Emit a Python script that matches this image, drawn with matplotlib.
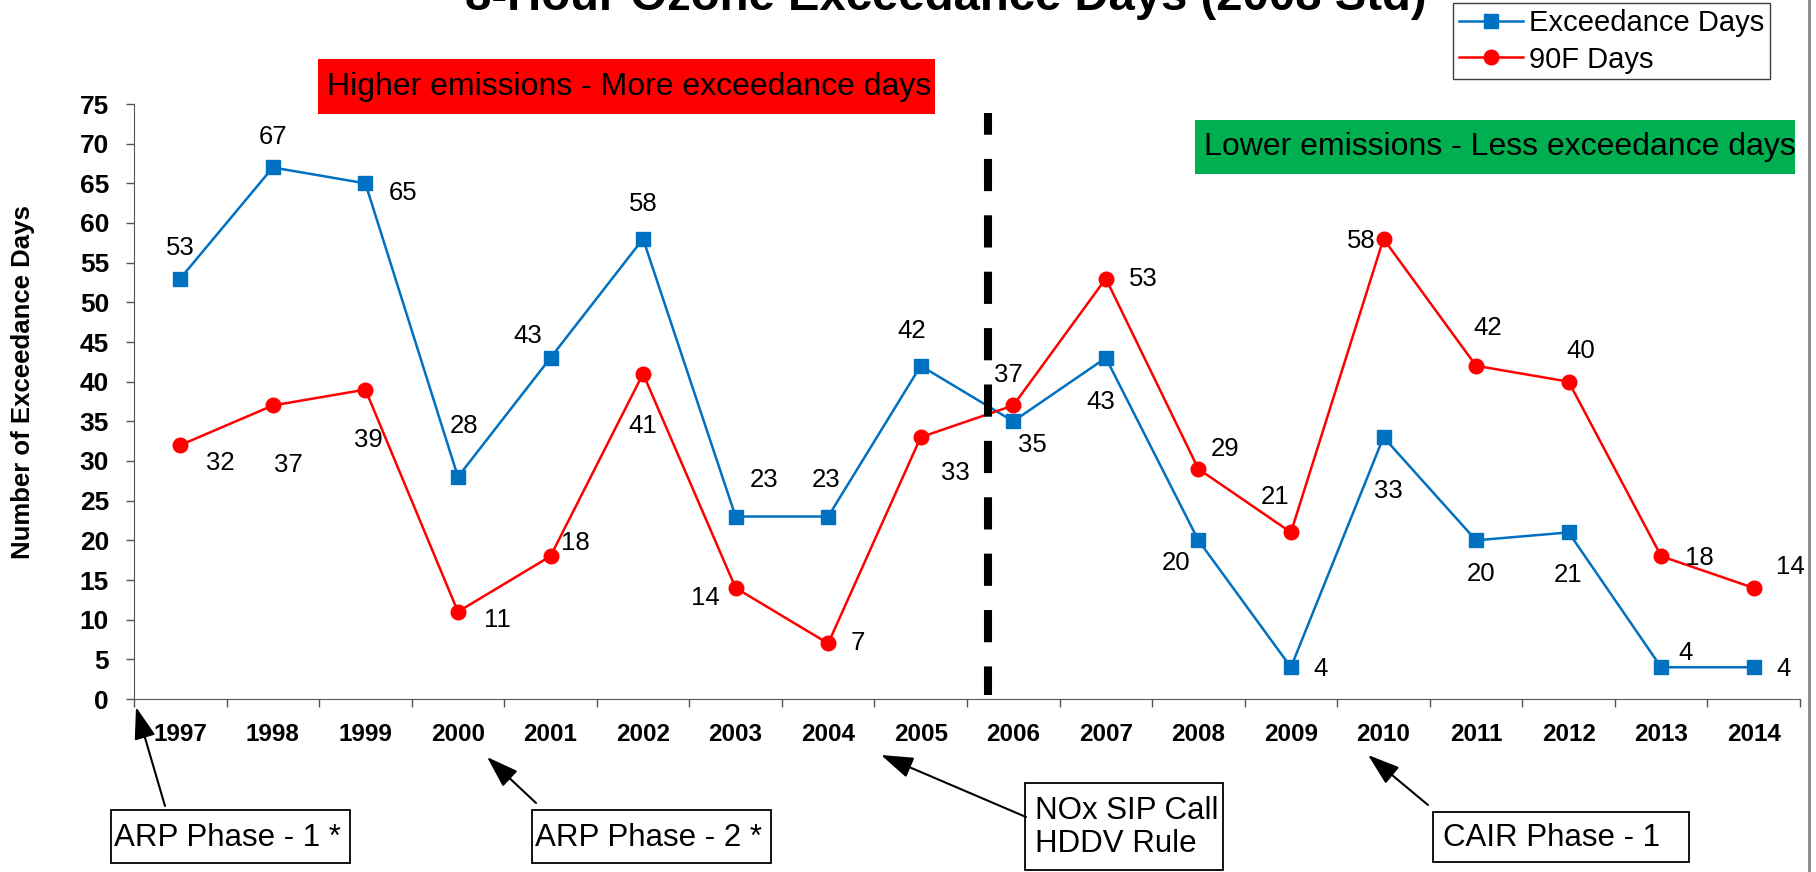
import numpy as np
import matplotlib.pyplot as plt
from matplotlib.lines import Line2D
from matplotlib.patches import Rectangle, FancyArrowPatch

plt.rcParams['font.family'] = ['Liberation Sans', 'DejaVu Sans']

years = ['1997', '1998', '1999', '2000', '2001', '2002', '2003', '2004', '2005',
         '2006', '2007', '2008', '2009', '2010', '2011', '2012', '2013', '2014']
exceedance = [53, 67, 65, 28, 43, 58, 23, 23, 42, 35, 43, 20, 4, 33, 20, 21, 4, 4]
days_90f = [32, 37, 39, 11, 18, 41, 14, 7, 33, 37, 53, 29, 21, 58, 42, 40, 18, 14]

# label offsets in pixels (dx, dy), dy positive = up
off_exc = [(0, 31), (0, 30), (38, -10), (6, 51), (-23, 22), (0, 35), (28, 37), (-2, 37),
           (-9, 35), (19, -24), (-5, -44), (-22, -23), (30, -2), (5, -54), (5, -34),
           (-1, -43), (24, 14), (30, -2)]
off_90f = [(40, -18), (16, -60), (3, -50), (39, -8), (25, 13), (0, -52), (-30, -10),
           (30, 0), (35, -36), (-5, 30), (37, 0), (27, 20), (-16, 35), (-22, -2),
           (12, 38), (12, 31), (38, -2), (37, 21)]

blue = '#0070C0'
red = '#FF0000'
W, H = 1816, 872


def fx(px):
    return px / W


def fy(py):
    return 1 - py / H


fig = plt.figure(figsize=(W / 100, H / 100), dpi=100)
ax = fig.add_axes([fx(134), fy(699), fx(1800) - fx(134), fy(104) - fy(699)])

x = np.arange(len(years))
ax.plot(x, exceedance, color=blue, lw=1.8, marker='s', ms=10.5, label='Exceedance Days', zorder=3)
ax.plot(x, days_90f, color=red, lw=1.8, marker='o', ms=10.5, label='90F Days', zorder=3)

for i in range(len(years)):
    ax.annotate(str(exceedance[i]), (x[i], exceedance[i]), xytext=off_exc[i],
                textcoords='offset pixels', ha='center', va='center', fontsize=18.5)
    ax.annotate(str(days_90f[i]), (x[i], days_90f[i]), xytext=off_90f[i],
                textcoords='offset pixels', ha='center', va='center', fontsize=18.5)

# dashed divider
ax.plot([8.73, 8.73], [73.9, 0.5], color='black', lw=5.8,
        linestyle=(1.3, (4, 3)), solid_capstyle='butt', dash_capstyle='butt', zorder=4)

ax.set_xlim(-0.5, len(years) - 0.5)
ax.set_ylim(0, 75)
ax.set_yticks(np.arange(0, 80, 5))
ax.set_xticks(x)
ax.set_xticklabels(years, fontweight='bold', fontsize=17.5)
ax.set_xticks(np.arange(-0.5, len(years), 1), minor=True)
ax.tick_params(axis='x', which='major', length=0, pad=17)
ax.tick_params(axis='x', which='minor', length=6, width=1, color='#555555')
ax.tick_params(axis='y', length=6, width=1, color='#555555', labelsize=19, pad=12)
for lab in ax.get_yticklabels():
    lab.set_fontweight('bold')
for s in ['top', 'right']:
    ax.spines[s].set_visible(False)
for s in ['left', 'bottom']:
    ax.spines[s].set_color('#555555')

fig.text(fx(23), fy(382), 'Number of Exceedance Days', rotation=90, ha='center',
         va='center', fontsize=18.5, fontweight='bold')

# region boxes
fig.add_artist(Rectangle((fx(318), fy(114)), fx(935) - fx(318), fy(59) - fy(114),
                         transform=fig.transFigure, fc=red, ec='none'))
fig.text(fx(327), fy(87), 'Higher emissions - More exceedance days', fontsize=23,
         ha='left', va='center')
fig.add_artist(Rectangle((fx(1195), fy(174)), fx(1795) - fx(1195), fy(120) - fy(174),
                         transform=fig.transFigure, fc='#00B050', ec='none'))
fig.text(fx(1204), fy(147), 'Lower emissions - Less exceedance days', fontsize=23,
         ha='left', va='center')

# title (partially cut at top as in source)
fig.text(fx(946), fy(10), '8-Hour Ozone Exceedance Days (2008 Std)', ha='center',
         va='baseline', fontsize=34, fontweight='bold')

leg = fig.legend(loc='upper left', bbox_to_anchor=(fx(1453), fy(3)), fontsize=21,
                 frameon=True, fancybox=False, edgecolor='#404040', framealpha=1,
                 handlelength=2.2, borderpad=0.2, labelspacing=0.3, handletextpad=0.2,
                 borderaxespad=0)
leg.get_frame().set_linewidth(1)

# policy annotations: text, box left, top, right, bottom, arrow tail, arrow tip
notes = [
    ('ARP Phase - 1 *', 111, 810, 350, 863, (165, 806), (136, 707)),
    ('ARP Phase - 2 *', 532, 810, 771, 863, (536, 803), (487, 757)),
    ('NOx SIP Call\nHDDV Rule', 1025, 783, 1223, 870, (1026, 817), (881, 755)),
    ('CAIR Phase - 1', 1433, 812, 1689, 862, (1428, 805), (1368, 755)),
]
for txt, x0, y0, x1, y1, p0, p1 in notes:
    fig.add_artist(Rectangle((fx(x0), fy(y1)), fx(x1) - fx(x0), fy(y0) - fy(y1),
                             transform=fig.transFigure, fc='white', ec='black', lw=1.3))
    pad = 3 if txt.startswith('ARP') else 10
    fig.text(fx(x0 + pad), fy((y0 + y1) / 2 + 1), txt, ha='left', va='center',
             fontsize=22.5, linespacing=1.12)
    fig.add_artist(FancyArrowPatch(
        (fx(p0[0]), fy(p0[1])), (fx(p1[0]), fy(p1[1])), transform=fig.transFigure,
        arrowstyle='-|>,head_width=0.3,head_length=0.9', mutation_scale=22, lw=1.5,
        color='black', shrinkA=0, shrinkB=0))

fig.add_artist(Line2D([fx(1809), fx(1809)], [0, 1], color='#888888', lw=2,
                      transform=fig.transFigure))

fig.savefig('out.png', dpi=100)
